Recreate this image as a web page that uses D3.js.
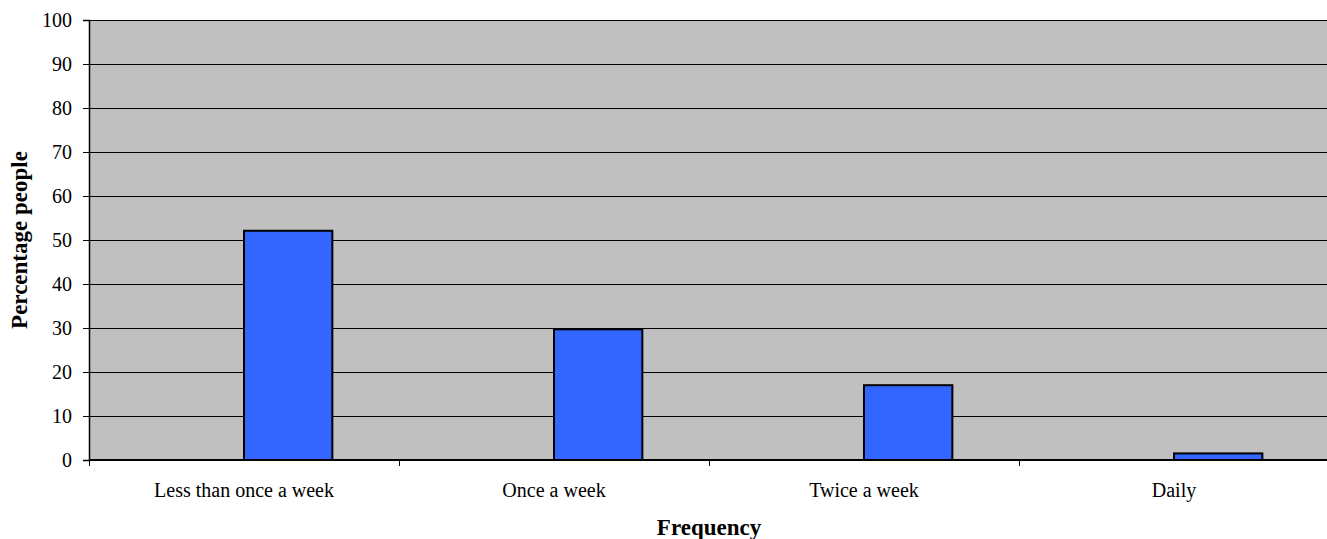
<!DOCTYPE html>
<html>
<head>
<meta charset="utf-8">
<script src="https://cdn.jsdelivr.net/npm/d3@7"></script>
<style>
  html, body { margin: 0; padding: 0; background: #fff; }
  svg { display: block; }
  text { font-family: "Liberation Serif", "Times New Roman", serif; fill: #000; }
</style>
</head>
<body>
<svg id="chart" width="1327" height="539"></svg>
<script>
// Frequency of visits, share of respondents (%)
const categories = ["Less than once a week", "Once a week", "Twice a week", "Daily"];
const percentages = [52.1, 29.7, 17.0, 1.5];
const yTicks = [0, 10, 20, 30, 40, 50, 60, 70, 80, 90, 100];

const width = 1327, height = 539;
const margin = { top: 20, right: -2, bottom: 79, left: 89 };
const innerW = width - margin.left - margin.right;
const innerH = height - margin.top - margin.bottom;

const svg = d3.select("#chart");
const g = svg.append("g").attr("transform", `translate(${margin.left},${margin.top})`);

const x = d3.scaleBand().domain(categories).range([0, innerW]);
const y = d3.scaleLinear().domain([0, 100]).range([innerH, 0]);

// Plot background
g.append("rect")
  .attr("x", 0).attr("y", 0)
  .attr("width", innerW).attr("height", innerH)
  .attr("fill", "#C0C0C0");

// Horizontal gridlines
g.append("g")
  .selectAll("line")
  .data(yTicks.filter(t => t > 0))
  .join("line")
  .attr("x1", 0).attr("x2", innerW)
  .attr("y1", d => Math.round(y(d)) + 0.5).attr("y2", d => Math.round(y(d)) + 0.5)
  .attr("stroke", "#000").attr("stroke-width", 1);

// Bars sit in the right half of each category slot
const barW = x.bandwidth() * 0.285;
g.append("g")
  .selectAll("rect")
  .data(categories.map((c, i) => ({ c, v: percentages[i] })))
  .join("rect")
  .attr("x", d => x(d.c) + x.bandwidth() / 2)
  .attr("y", d => y(d.v))
  .attr("width", barW)
  .attr("height", d => y(0) - y(d.v))
  .attr("fill", "#3366FF")
  .attr("stroke", "#000")
  .attr("stroke-width", 2);

// Y axis
const yAxis = d3.axisLeft(y).tickValues(yTicks).tickSize(6).tickPadding(11);
const yg = g.append("g").call(yAxis).attr("font-family", null).attr("font-size", null);
yg.select(".domain").attr("stroke", "#000").attr("stroke-width", 1.5);
yg.selectAll(".tick line").attr("stroke", "#000");
yg.selectAll(".tick text")
  .style("font-family", '"Liberation Serif", serif')
  .style("font-size", "20px");

// X axis: tick marks at category boundaries, labels centred in each slot
const xg = g.append("g").attr("transform", `translate(0,${innerH})`);
xg.append("line")
  .attr("x1", 0).attr("x2", innerW)
  .attr("y1", 0).attr("y2", 0)
  .attr("stroke", "#000").attr("stroke-width", 2);
xg.selectAll("line.tick")
  .data(categories.map(c => x(c)))
  .join("line")
  .attr("class", "tick")
  .attr("x1", d => d + 0.5).attr("x2", d => d + 0.5)
  .attr("y1", 0).attr("y2", 6)
  .attr("stroke", "#000");
xg.selectAll("text")
  .data(categories)
  .join("text")
  .attr("x", d => x(d) + x.bandwidth() / 2)
  .attr("y", 37)
  .attr("text-anchor", "middle")
  .style("font-size", "20px")
  .text(d => d);

// Axis titles
svg.append("text")
  .attr("x", margin.left + innerW / 2)
  .attr("y", 535)
  .attr("text-anchor", "middle")
  .style("font-size", "23px")
  .style("font-weight", "bold")
  .text("Frequency");

svg.append("text")
  .attr("transform", `translate(27,${margin.top + innerH / 2}) rotate(-90)`)
  .attr("text-anchor", "middle")
  .style("font-size", "23px")
  .style("font-weight", "bold")
  .text("Percentage people");
</script>
</body>
</html>
